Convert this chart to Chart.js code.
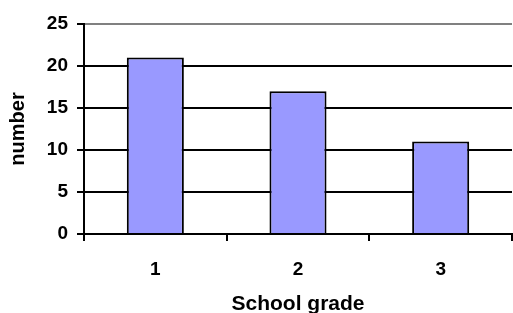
<!DOCTYPE html>
<html>
<head>
<meta charset="utf-8">
<script src="https://cdn.jsdelivr.net/npm/chart.js@4"></script>
<style>
html,body{margin:0;padding:0;background:#fff;}
#wrap{width:513px;height:313px;position:relative;}
</style>
</head>
<body>
<div id="wrap"><canvas id="c" width="513" height="313"></canvas></div>
<script>
const categories = ['1', '2', '3'];
const counts = [21, 17, 11];
const yTicks = [0, 5, 10, 15, 20, 25];
const xTitle = 'School grade';
const yTitle = 'number';

const FONT = "'Liberation Sans', Arial, Helvetica, sans-serif";

new Chart(document.getElementById('c'), {
  type: 'bar',
  data: {
    labels: categories,
    datasets: [{
      data: counts,
      backgroundColor: '#9999FF',
      borderColor: '#000000',
      borderWidth: 2,
      barPercentage: 0.4,
      categoryPercentage: 1.0
    }]
  },
  options: {
    responsive: false,
    animation: false,
    devicePixelRatio: 1,
    layout: { padding: { top: 24, right: 1, left: 0, bottom: 0 } },
    plugins: { legend: { display: false }, tooltip: { enabled: false } },
    scales: {
      x: {
        offset: true,
        grid: {
          offset: true,
          drawOnChartArea: true,
          drawTicks: true,
          tickLength: 7,
          lineWidth: 2,
          color: ctx => ctx.index === categories.length ? '#C0C0C0' : 'rgba(0,0,0,0)',
          tickColor: ctx => ctx.index === categories.length ? '#C0C0C0' : '#000000'
        },
        border: { display: true, color: '#000000', width: 2 },
        ticks: { color: '#000', font: { family: FONT, size: 19, weight: 'bold' }, padding: 17, maxRotation: 0 },
        title: { display: true, text: xTitle, color: '#000', font: { family: FONT, size: 21, weight: 'bold', lineHeight: 0.8 }, padding: { top: 0, bottom: 0 } },
        afterFit: s => { s.height = 79; }
      },
      y: {
        min: 0,
        max: 25,
        afterBuildTicks: s => { s.ticks = yTicks.map(v => ({ value: v })); },
        grid: {
          lineWidth: 2,
          tickLength: 7,
          color: ctx => ctx.tick && ctx.tick.value === 25 ? '#808080' : '#000000',
          tickColor: '#000000'
        },
        border: { display: true, color: '#000000', width: 2 },
        ticks: { color: '#000', font: { family: FONT, size: 19, weight: 'bold' }, padding: 9 },
        title: { display: true, text: yTitle, color: '#000', font: { family: FONT, size: 20, weight: 'bold' }, padding: { top: 6, bottom: 0 } },
        afterFit: s => { s.width = 84; }
      }
    }
  }
});
</script>
</body>
</html>
